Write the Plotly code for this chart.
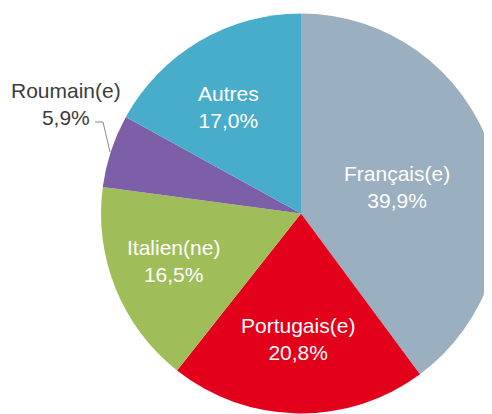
import plotly.graph_objects as go

categories = ["Français(e)", "Portugais(e)", "Italien(ne)", "Roumain(e)", "Autres"]
values = [39.9, 20.8, 16.5, 5.9, 17.0]
value_labels = ["39,9%", "20,8%", "16,5%", "5,9%", "17,0%"]
colors = ["#9aafc0", "#e2001a", "#9fbe5a", "#7c5fa6", "#48adca"]

# page offset (browser body margin) compensation
OFF = 8
W, H = 586, 414


def px(x):
    return (x - OFF) / W


def py(y):
    return 1 - (y - OFF) / H


fig = go.Figure(go.Pie(
    labels=categories,
    values=values,
    sort=False,
    direction="clockwise",
    rotation=0,
    marker=dict(colors=colors, line=dict(width=0)),
    textinfo="none",
    hoverinfo="label+percent",
    domain=dict(x=[0, 1], y=[py(413.5), py(13.5)]),
))

FONT = "Liberation Sans, Arial, Helvetica, sans-serif"
inside = {
    "Français(e)": (397, 187),
    "Portugais(e)": (298, 339),
    "Italien(ne)": (173, 261),
    "Autres": (228, 107),
}
annotations = []
for cat, lab in zip(categories, value_labels):
    if cat in inside:
        x, y = inside[cat]
        color = "white"
    else:
        x, y = 66, 104
        color = "#3c3c3c"
    annotations.append(dict(
        x=px(x), y=py(y), xref="paper", yref="paper",
        xanchor="center", yanchor="middle",
        text=f"{cat}<br>{lab}", showarrow=False,
        font=dict(family=FONT, size=21, color=color),
        align="center",
    ))

shapes = [dict(
    type="path", xref="paper", yref="paper",
    path=f"M {px(95)} {py(122)} L {px(103)} {py(122)} L {px(110)} {py(152)}",
    line=dict(color="#8a8a8a", width=1),
)]

fig.update_layout(
    width=W, height=H,
    margin=dict(l=0, r=0, t=0, b=0),
    paper_bgcolor="white",
    showlegend=False,
    annotations=annotations,
    shapes=shapes,
)

fig.write_html("out.html")
